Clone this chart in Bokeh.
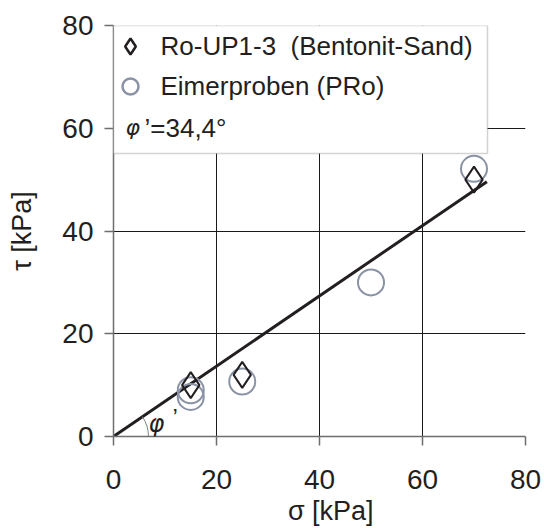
import numpy as np
from bokeh.plotting import figure
from bokeh.models import Range1d, Legend, LegendItem, BoxAnnotation, Label, FixedTicker
from bokeh.embed import file_html
from bokeh.resources import INLINE

# data
sigma_ro = [15, 25, 70]
tau_ro = [10.0, 12.0, 50.0]
sigma_pro = [15, 15, 25, 50, 70]
tau_pro = [9.0, 7.7, 10.7, 30.0, 52.1]
fit_sigma = [0, 72.5]
fit_tau = [0, 49.6]
phi_deg = 34.4
ticks = [0, 20, 40, 60, 80]

FONT = "Liberation Sans"
TXT = "#231f20"

p = figure(width=544, height=528, output_backend="svg", toolbar_location=None,
           x_range=Range1d(0, 80), y_range=Range1d(0, 80),
           min_border_left=113, min_border_right=19, min_border_top=25, min_border_bottom=92)
p.outline_line_color = None
p.background_fill_color = "white"
p.border_fill_color = "white"

for ax in (p.xaxis[0], p.yaxis[0]):
    ax.ticker = FixedTicker(ticks=ticks)
    ax.axis_line_color = "#6d6e71"
    ax.axis_line_width = 1.5
    ax.major_tick_line_color = "#6d6e71"
    ax.major_tick_line_width = 1.5
    ax.major_tick_out = 9
    ax.major_tick_in = 0
    ax.minor_tick_line_color = None
    ax.major_label_text_font = FONT
    ax.major_label_text_font_size = "28px"
    ax.major_label_text_color = TXT
    ax.axis_label_text_font = FONT
    ax.axis_label_text_font_size = "27px"
    ax.axis_label_text_font_style = "normal"
    ax.axis_label_text_color = TXT

p.xaxis.major_label_standoff = 24
p.xaxis.axis_label = "\u00a0\u00a0\u00a0σ [kPa]"
p.xaxis.axis_label_standoff = 4
p.yaxis.major_label_standoff = 11
p.yaxis.axis_label = "τ [kPa]"
p.yaxis.axis_label_standoff = 22

for g in (p.xgrid[0], p.ygrid[0]):
    g.ticker = FixedTicker(ticks=ticks)
    g.grid_line_color = "#1a1a1a"
    g.grid_line_width = 1

# fit line and angle arc
p.line(fit_sigma, fit_tau, line_color="#231f20", line_width=3)
p.arc(x=[0], y=[0], radius=35, radius_units="screen", start_angle=0,
      end_angle=np.radians(phi_deg), line_color="#808285", line_width=1)

r_pro = p.scatter(sigma_pro, tau_pro, marker="circle", size=26, fill_color=None,
                  line_color="#8a93a6", line_width=2)
r_ro = p.scatter(sigma_ro, tau_ro, marker="diamond", size=26, fill_color=None,
                 line_color="#231f20", line_width=2)

# legend proxies (not drawn in the plot area)
leg_ro = p.scatter(x=[np.nan], y=[np.nan], marker="diamond", fill_color=None,
                   line_color="#231f20", line_width=2.5)
leg_pro = p.scatter(x=[np.nan], y=[np.nan], marker="circle", fill_color=None,
                    line_color="#8a93a6", line_width=2.5)

box = BoxAnnotation(left=0, right=374, top=411, bottom=283,
                    left_units="screen", right_units="screen", top_units="screen", bottom_units="screen",
                    fill_color="white", fill_alpha=1, line_color="#6d6e71", line_width=1.5)
p.add_layout(box)

legend = Legend(items=[LegendItem(label="Ro-UP1-3  (Bentonit-Sand)", renderers=[leg_ro]),
                       LegendItem(label="Eimerproben (PRo)", renderers=[leg_pro])],
                location=(-3.5, 330), padding=7, margin=0, spacing=0,
                glyph_width=40, glyph_height=40, label_height=30, label_standoff=11,
                label_text_font=FONT, label_text_font_size="26px", label_text_color=TXT,
                border_line_color=None, background_fill_alpha=0)
p.add_layout(legend, "center")

p.add_layout(Label(x=12, y=309, x_units="screen", y_units="screen", text="φ",
                   text_font="DejaVu Sans", text_font_style="italic", text_font_size="22px",
                   text_color=TXT, text_baseline="alphabetic"))
p.add_layout(Label(x=31, y=309, x_units="screen", y_units="screen", text="’=34,4°",
                   text_font=FONT, text_font_size="26px", text_color=TXT, text_baseline="alphabetic"))

p.add_layout(Label(x=35, y=13, x_units="screen", y_units="screen", text="φ",
                   text_font="DejaVu Sans", text_font_style="italic", text_font_size="24px",
                   text_color=TXT, text_baseline="alphabetic"))
p.add_layout(Label(x=59, y=19, x_units="screen", y_units="screen", text="’",
                   text_font=FONT, text_font_size="24px", text_color=TXT, text_baseline="alphabetic"))

open("out.html", "w").write(file_html(p, INLINE))
